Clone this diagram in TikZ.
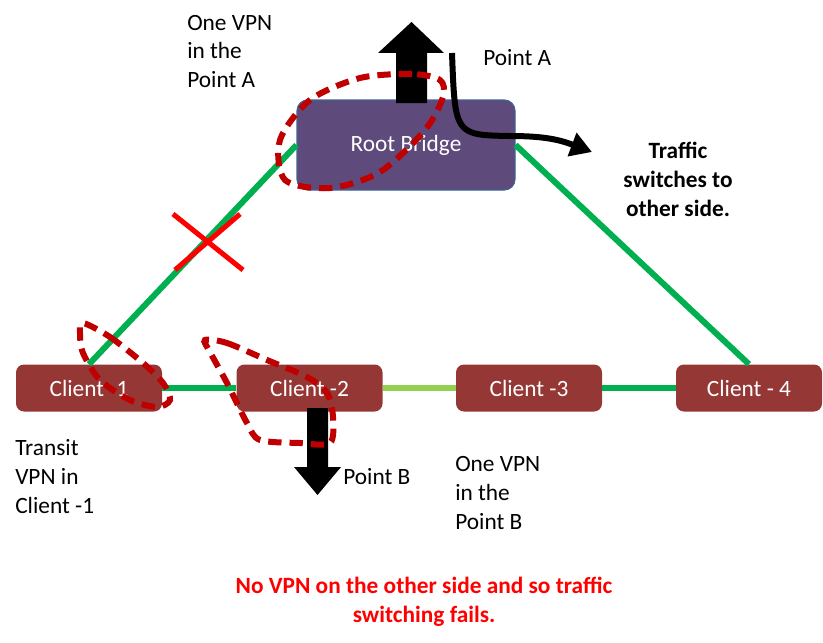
\documentclass[tikz,border=0pt]{standalone}
\usepackage{fontspec}
\setmainfont{Carlito}
\usetikzlibrary{arrows.meta}
\definecolor{clientred}{HTML}{953735}
\definecolor{rootpurple}{HTML}{5F4A7C}
\definecolor{rootborder}{HTML}{3E6296}
\definecolor{linkgreen}{HTML}{00B050}
\definecolor{lightgreen}{HTML}{92D050}
\definecolor{loopred}{HTML}{C00000}
\definecolor{failred}{HTML}{FF0000}

\begin{document}
\begin{tikzpicture}[x=0.75pt, y=-0.75pt, font=\fontsize{17.5}{21.75}\selectfont,
  client/.style={rectangle, rounded corners=6pt, fill=clientred, text=white,
    minimum width=109.5pt, minimum height=35.25pt, inner sep=0pt},
  root/.style={rectangle, rounded corners=8pt, fill=rootpurple, draw=rootborder,
    line width=0.8pt, text=white, minimum width=163.5pt, minimum height=67.5pt, inner sep=0pt},
  link/.style={line width=4.5pt, linkgreen},
  vpnloop/.style={line width=4.5pt, loopred, dash pattern=on 10pt off 6pt},
  note/.style={align=left, inner sep=0pt, anchor=base west}]
\useasboundingbox (0,0) rectangle (823,642);

% 网桥与客户端
\node[root] (root) at (406,145) {Root Bridge};
\node[client] (c1) at (89,388) {Client -1};
\node[client] (c2) at (309.5,388) {Client -2};
\node[client] (c3) at (529,388) {Client -3};
\node[client] (c4) at (749,388) {Client - 4};

% 链路
\draw[link] (root.west) -- (c1.north);
\draw[link] (root.east) -- (c4.north);
\draw[link] (c1.east) -- (c2.west);
\draw[link, lightgreen] (c2.east) -- (c3.west);
\draw[link] (c3.east) -- (c4.west);

% 断开的链路
\draw[line width=3.8pt, failred] (173,214) -- (243,270);
\draw[line width=3.8pt, failred] (175,270) -- (240,214);

% 粗箭头
\fill (396,103) -- (396,53) -- (378,53) -- (411.5,22) -- (444,53) -- (427,53) -- (427,103) -- cycle;
\fill (307,408) -- (307,467) -- (294,467) -- (317.5,495) -- (341,467) -- (328,467) -- (328,408) -- cycle;
\draw[line width=4.5pt, -{Triangle[length=16pt, width=18pt]}]
  (452,53) .. controls (455,135) .. (510,136) .. controls (545,136) and (560,140) .. (592,152);

% VPN 范围
\draw[vpnloop] plot[smooth cycle] coordinates {(440,80) (412,74) (360,78) (310,100) (280,140) (285,180) (330,188) (380,172) (425,130) (443,97)};
\draw[vpnloop] plot[smooth cycle] coordinates {(83,323) (110,337) (143,363) (163,383) (170,400) (157,407) (130,400) (100,380) (83,353) (80,333)};
\draw[vpnloop] plot[smooth cycle] coordinates {(205,340) (227,343) (267,360) (307,377) (327,393) (333,417) (330,443) (300,443) (260,440) (247,423) (227,383) (210,352)};

% 说明文字 (多行文字以最后一行为基线)
\node[note] (vpnA) at (187,88) {One VPN\\in the\\Point A};
\node[note] (pointA) at (483,65) {Point A};
\node[note, align=center, anchor=base, font=\fontsize{17.5}{21.75}\selectfont\bfseries] (traffic) at (678,216) {Traffic\\switches to\\other side.};
\node[note] (transit) at (15,513) {Transit\\VPN in\\Client -1};
\node[note] (pointB) at (343,484) {Point B};
\node[note] (vpnB) at (455,529) {One VPN\\in the\\Point B};
\node[note, align=center, anchor=base, text=failred, font=\fontsize{17.5}{21.75}\selectfont\bfseries] (fails) at (424,622) {No VPN on the other side and so traffic\\switching fails.};
\end{tikzpicture}
\end{document}
